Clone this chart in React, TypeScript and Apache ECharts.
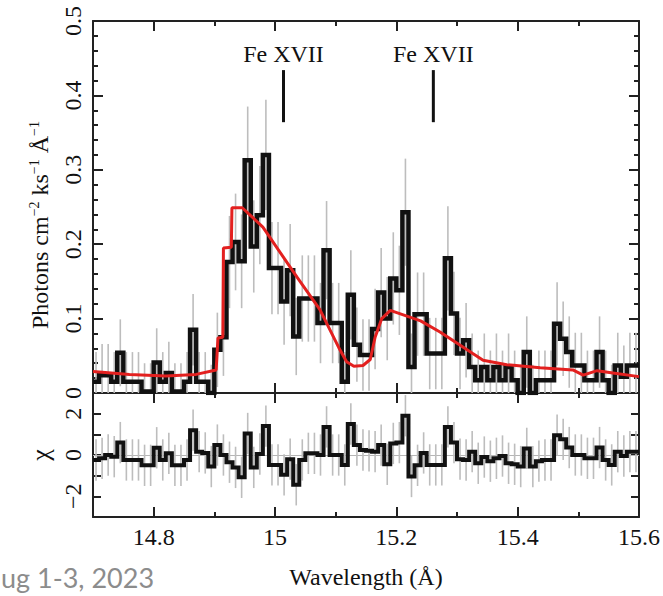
import React, { useEffect, useRef } from "react";
import * as echarts from "echarts";

// ---------- data ----------
const waveMin = 14.7;
const waveMax = 15.6;
const binWidth = 0.01;

// observed flux per 0.01 Å bin (photons cm^-2 ks^-1 Å^-1), bins start at 14.70
const flux = [
  0.015, 0.024, 0.024, 0.015, 0.054, 0.015, 0.015, 0.015, 0.002, 0.002,
  0.041, 0.015, 0.027, 0.002, 0.002, 0.015, 0.085, 0.015, 0.015, 0.0,
  0.058, 0.075, 0.176, 0.203, 0.177, 0.313, 0.197, 0.239, 0.32, 0.168,
  0.168, 0.123, 0.165, 0.076, 0.127, 0.127, 0.127, 0.094, 0.192, 0.094,
  0.094, 0.015, 0.132, 0.065, 0.051, 0.051, 0.086, 0.135, 0.1, 0.154,
  0.138, 0.243, 0.035, 0.106, 0.106, 0.053, 0.053, 0.053, 0.181, 0.107,
  0.053, 0.071, 0.035, 0.017, 0.035, 0.017, 0.035, 0.017, 0.035, 0.017,
  0.0, 0.055, 0.0, 0.017, 0.017, 0.017, 0.093, 0.073, 0.055, 0.037,
  0.037, 0.017, 0.017, 0.055, 0.017, 0.0, 0.037, 0.022, 0.037, 0.037,
];

// 1-sigma error of each bin
const fluxErr = [
  0.04, 0.042, 0.042, 0.04, 0.045, 0.04, 0.04, 0.04, 0.038, 0.038,
  0.046, 0.04, 0.042, 0.038, 0.038, 0.04, 0.048, 0.04, 0.04, 0.038,
  0.05, 0.052, 0.062, 0.065, 0.063, 0.072, 0.062, 0.066, 0.074, 0.062,
  0.062, 0.058, 0.062, 0.052, 0.058, 0.058, 0.058, 0.054, 0.066, 0.054,
  0.054, 0.04, 0.06, 0.05, 0.048, 0.048, 0.054, 0.06, 0.056, 0.062,
  0.06, 0.072, 0.045, 0.056, 0.056, 0.048, 0.048, 0.048, 0.07, 0.056,
  0.048, 0.05, 0.045, 0.04, 0.045, 0.04, 0.045, 0.04, 0.045, 0.04,
  0.038, 0.048, 0.038, 0.04, 0.04, 0.04, 0.056, 0.05, 0.048, 0.044,
  0.044, 0.04, 0.04, 0.048, 0.04, 0.038, 0.044, 0.042, 0.044, 0.044,
];

// residuals (chi) per bin
const chi = [
  -0.24, -0.16, 0.0, -0.08, 0.6, -0.24, -0.24, -0.24, -0.5, -0.5,
  0.35, -0.24, 0.08, -0.5, -0.5, -0.24, 1.2, 0.16, 0.1, -0.56,
  0.48, 0.0, -0.35, -0.6, -1.08, 1.04, -0.6, 0.05, 1.4, -0.48,
  -0.48, -0.96, -0.2, -1.44, -0.24, 0.08, 0.08, 0.0, 1.36, 0.0,
  0.0, -0.48, 1.5, 0.48, 0.24, 0.2, 0.16, 0.48, -0.45, 0.56,
  0.6, 1.9, -1.04, -0.5, 0.1, -0.48, -0.48, -0.48, 1.36, 0.6,
  -0.2, -0.24, 0.16, -0.4, -0.1, -0.3, -0.16, -0.05, -0.4, -0.45,
  -0.56, 0.32, -0.56, -0.3, -0.24, -0.24, 0.96, 0.76, 0.36, 0.0,
  0.0, -0.16, -0.16, 0.36, -0.24, -0.48, 0.16, -0.05, 0.16, 0.16,
];
const chiErr = 1;

// best-fit model (red)
const modelWave = [
  14.7, 14.76, 14.82, 14.87, 14.903, 14.906, 14.914, 14.915, 14.928, 14.929,
  14.946, 14.98, 15.036, 15.074, 15.107, 15.118, 15.13, 15.145, 15.157, 15.165,
  15.176, 15.19, 15.24, 15.272, 15.326, 15.343, 15.382, 15.437, 15.491, 15.508,
  15.531, 15.557, 15.6,
];
const modelFlux = [
  0.029, 0.025, 0.023, 0.025, 0.031, 0.074, 0.075, 0.195, 0.196, 0.249,
  0.249, 0.223, 0.156, 0.112, 0.058, 0.042, 0.036, 0.037, 0.045, 0.075,
  0.1, 0.111, 0.097, 0.082, 0.053, 0.044, 0.038, 0.034, 0.031, 0.024,
  0.03, 0.027, 0.022,
];

// line identifications
const lineWave = [15.014, 15.261];
const lineLabel = ["Fe XVII", "Fe XVII"];

const yTitle = "{a|Photons cm}{s|\u22122}{a| ks}{s|\u22121}{a| \u00C5}{s|\u22121}";
const xTitle = "Wavelength (\u00C5)";
const chiTitle = "\u03C7";
const footer = "ug 1-3, 2023";

// ---------- styles ----------
const SERIF = '"Liberation Serif", "Times New Roman", Times, serif';
const INK = "#111111";
const FS = 24;

export default function App() {
  const ref = useRef<HTMLDivElement | null>(null);

  useEffect(() => {
    document.body.style.margin = "0";
    const el = ref.current;
    if (!el) return;
    const chart = echarts.init(el, null, { renderer: "svg" });

    const edge = (i: number) => +(waveMin + i * binWidth).toFixed(3);
    const mid = (i: number) => +(waveMin + (i + 0.5) * binWidth).toFixed(4);
    const stepFlux: number[][] = [];
    flux.forEach((v, i) => {
      stepFlux.push([edge(i), v], [edge(i + 1), v]);
    });
    const stepChi: number[][] = [];
    chi.forEach((v, i) => {
      stepChi.push([edge(i), v], [edge(i + 1), v]);
    });
    const fluxBars = flux.map((v, i) => [mid(i), v, fluxErr[i]]);
    const chiBars = chi.map((v, i) => [mid(i), v, chiErr]);
    const model = modelWave.map((w, i) => [w, modelFlux[i]]);

    const frameLine = { color: "#222", width: 2 };
    const tickLine = { color: "#222", width: 2 };
    const labelFont = { fontFamily: SERIF, fontSize: FS, color: INK };

    const xMajor = (gridIndex: number, position: string, labels: boolean) => ({
      type: "value",
      gridIndex,
      position,
      min: waveMin,
      max: waveMax,
      splitNumber: 5,
      axisLine: { show: true, onZero: false, lineStyle: frameLine },
      axisTick: { show: true, inside: true, length: 10, lineStyle: tickLine },
      axisLabel: labels
        ? { show: true, showMinLabel: false, margin: 8, ...labelFont }
        : { show: false },
      splitLine: { show: false },
      ...(labels
        ? {
            name: xTitle,
            nameLocation: "middle",
            nameGap: 48,
            nameTextStyle: { fontFamily: SERIF, fontSize: FS, color: INK },
          }
        : {}),
    });
    const xMinor = (gridIndex: number, position: string) => ({
      type: "value",
      gridIndex,
      position,
      min: waveMin,
      max: waveMax,
      interval: 0.1,
      axisLine: { show: false, onZero: false },
      axisTick: { show: true, inside: true, length: 5, lineStyle: tickLine },
      axisLabel: { show: false },
      splitLine: { show: false },
    });
    const yTop = (position: string, labels: boolean) => ({
      type: "value",
      gridIndex: 0,
      position,
      min: 0,
      max: 0.5,
      interval: 0.1,
      axisLine: { show: true, onZero: false, lineStyle: frameLine },
      axisTick: { show: true, inside: true, length: 10, lineStyle: tickLine },
      minorTick: { show: true, splitNumber: 5, length: 5, lineStyle: tickLine },
      axisLabel: labels ? { show: true, rotate: 90, margin: 8, ...labelFont } : { show: false },
      splitLine: { show: false },
      minorSplitLine: { show: false },
    });
    const yBot = (position: string, labels: boolean) => ({
      type: "value",
      gridIndex: 1,
      position,
      min: -3,
      max: 3,
      interval: 1,
      axisLine: { show: true, onZero: false, lineStyle: frameLine },
      axisTick: { show: true, inside: true, length: 8, lineStyle: tickLine },
      axisLabel: labels
        ? {
            show: true,
            rotate: 90,
            margin: 8,
            ...labelFont,
            formatter: (v: number) =>
              Math.round(v) % 2 === 0 ? (v < 0 ? "\u2212" + Math.abs(v) : String(v)) : "",
          }
        : { show: false },
      splitLine: { show: false },
    });

    const errRender = (params: any, api: any) => {
      const x = api.value(0);
      const v = api.value(1);
      const e = api.value(2);
      const a = api.coord([x, v - e]);
      const b = api.coord([x, v + e]);
      return {
        type: "line",
        shape: { x1: a[0], y1: a[1], x2: b[0], y2: b[1] },
        style: { stroke: "#bdbdbd", lineWidth: 1.6 },
      };
    };

    const annRender = (params: any, api: any) => {
      const x = api.value(0);
      const p1 = api.coord([x, 0.434]);
      const p2 = api.coord([x, 0.364]);
      const pt = api.coord([x, 0.456]);
      return {
        type: "group",
        children: [
          {
            type: "line",
            shape: { x1: p1[0], y1: p1[1], x2: p2[0], y2: p2[1] },
            style: { stroke: INK, lineWidth: 3 },
          },
          {
            type: "text",
            x: pt[0],
            y: pt[1],
            style: {
              text: lineLabel[params.dataIndex],
              fontFamily: SERIF,
              fontSize: FS,
              fill: INK,
              align: "center",
              verticalAlign: "middle",
              textAlign: "center",
              textVerticalAlign: "middle",
            },
          },
        ],
      };
    };

    const option: any = {
      animation: false,
      backgroundColor: "#ffffff",
      grid: [
        { left: 93, top: 21, width: 546, height: 372 },
        { left: 93, top: 393, width: 546, height: 124 },
        { left: 93, top: 21, width: 546, height: 372 },
        { left: 93, top: 393, width: 546, height: 124 },
      ],
      xAxis: [
        xMajor(0, "bottom", false),
        xMajor(0, "top", false),
        xMajor(1, "bottom", true),
        xMajor(1, "top", false),
        xMinor(2, "bottom"),
        xMinor(2, "top"),
        xMinor(3, "bottom"),
        xMinor(3, "top"),
      ],
      yAxis: [
        yTop("left", true),
        yTop("right", false),
        yBot("left", true),
        yBot("right", false),
        { type: "value", gridIndex: 2, min: 0, max: 1, show: false },
        { type: "value", gridIndex: 3, min: 0, max: 1, show: false },
      ],
      series: [
        {
          type: "custom",
          xAxisIndex: 0,
          yAxisIndex: 0,
          data: fluxBars,
          encode: { x: 0, y: 1 },
          renderItem: errRender,
          clip: true,
          silent: true,
          z: 1,
        },
        {
          type: "line",
          xAxisIndex: 0,
          yAxisIndex: 0,
          data: stepFlux,
          symbol: "none",
          clip: true,
          silent: true,
          lineStyle: { color: "#111111", width: 4.5, join: "miter" },
          z: 2,
        },
        {
          type: "line",
          xAxisIndex: 0,
          yAxisIndex: 0,
          data: model,
          symbol: "none",
          clip: true,
          silent: true,
          lineStyle: { color: "#e3201f", width: 3 },
          z: 3,
        },
        {
          type: "custom",
          xAxisIndex: 0,
          yAxisIndex: 0,
          data: lineWave.map((w) => [w]),
          encode: { x: 0 },
          renderItem: annRender,
          silent: true,
          z: 4,
        },
        {
          type: "custom",
          xAxisIndex: 2,
          yAxisIndex: 2,
          data: chiBars,
          encode: { x: 0, y: 1 },
          renderItem: errRender,
          clip: true,
          silent: true,
          z: 1,
          markLine: {
            silent: true,
            symbol: "none",
            z: 1,
            label: { show: false },
            lineStyle: { color: "#b5b5b5", width: 1.2, type: "solid" },
            data: [{ yAxis: 0 }],
          },
        },
        {
          type: "line",
          xAxisIndex: 2,
          yAxisIndex: 2,
          data: stepChi,
          symbol: "none",
          clip: true,
          silent: true,
          lineStyle: { color: "#111111", width: 4, join: "miter" },
          z: 3,
        },
      ],
      graphic: [
        {
          type: "text",
          x: 40,
          y: 225,
          rotation: Math.PI / 2,
          style: {
            text: yTitle,
            align: "center",
            verticalAlign: "middle",
            textAlign: "center",
            textVerticalAlign: "middle",
            rich: {
              a: { fontFamily: SERIF, fontSize: FS, lineHeight: 26, fill: INK, color: INK },
              s: {
                fontFamily: SERIF,
                fontSize: 14,
                lineHeight: 15,
                fill: INK,
                color: INK,
                verticalAlign: "top",
              },
            },
          },
        },
        {
          type: "text",
          x: 40,
          y: 455,
          rotation: Math.PI / 2,
          style: {
            text: chiTitle,
            fontFamily: SERIF,
            fontSize: 26,
            fill: INK,
            align: "center",
            verticalAlign: "middle",
            textAlign: "center",
            textVerticalAlign: "middle",
          },
        },
        {
          type: "text",
          x: 1,
          y: 577,
          style: {
            text: footer,
            fontFamily: "Lato",
            fontSize: 27,
            fill: "#8c8c8c",
            verticalAlign: "middle",
            textVerticalAlign: "middle",
          },
        },
      ],
    };

    chart.setOption(option);
    return () => chart.dispose();
  }, []);

  return <div ref={ref} style={{ width: 663, height: 596 }} />;
}
